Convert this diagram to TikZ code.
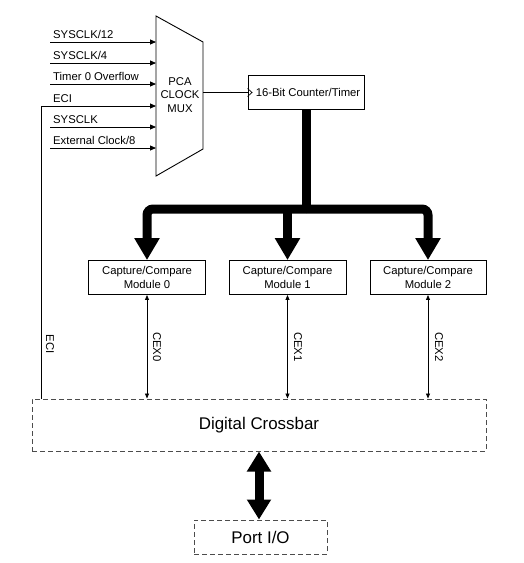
\documentclass[tikz,border=0pt]{standalone}
\usepackage{fontspec}
\setmainfont{Liberation Sans}
\usetikzlibrary{arrows.meta}
\begin{document}
\begin{tikzpicture}[x=1pt,y=-1pt,
  lbl/.style={font=\fontsize{11.3}{13.6}\selectfont, inner sep=0pt},
  box/.style={draw, line width=0.9pt, inner sep=0pt, align=center,
    font=\fontsize{11.3}{13.6}\selectfont},
  dbox/.style={draw=black!70, line width=1pt, dash pattern=on 5pt off 3pt,
    inner sep=0pt, align=center, font=\fontsize{16.9}{20}\selectfont},
  inarrow/.style={line width=0.8pt, -{Triangle[length=6pt,width=5pt]}},
  cex/.style={line width=0.8pt, {Triangle[length=5pt,width=4pt]}-{Triangle[length=5pt,width=4pt]}},
  bus/.style={line width=9pt, -{Triangle[length=22pt,width=24pt]}},
  dblbus/.style={line width=9pt, {Triangle[length=20pt,width=23pt]}-{Triangle[length=20pt,width=23pt]}}
]
\useasboundingbox (0,0) rectangle (524,563);

% PCA clock mux (trapezoid)
\coordinate (mtl) at (156,16);
\coordinate (mbl) at (156,176);
\coordinate (mtr) at (203,42);
\coordinate (mbr) at (203,149);
\draw[line width=0.9pt] (mtl) -- (mtr) -- (mbr) -- (mbl) -- cycle;
\node[lbl, align=center] (mux) at (180,95) {PCA\\CLOCK\\MUX};

% mux inputs
\coordinate (in1) at (156,42);
\coordinate (in2) at (156,63);
\coordinate (in3) at (156,84);
\coordinate (in4) at (156,106);
\coordinate (in5) at (156,127);
\coordinate (in6) at (156,148);
\coordinate (s1) at (50,42);
\coordinate (s2) at (50,63);
\coordinate (s3) at (50,84);
\coordinate (s5) at (50,127);
\coordinate (s6) at (50,148);
\draw[inarrow] (s1) -- (in1);
\draw[inarrow] (s2) -- (in2);
\draw[inarrow] (s3) -- (in3);
\draw[inarrow] (s5) -- (in5);
\draw[inarrow] (s6) -- (in6);
\node[lbl, anchor=south west] (l1) at (53,39) {SYSCLK/12};
\node[lbl, anchor=south west] (l2) at (53,60) {SYSCLK/4};
\node[lbl, anchor=south west] (l3) at (53,81) {Timer 0 Overflow};
\node[lbl, anchor=south west] (l4) at (53,103) {ECI};
\node[lbl, anchor=south west] (l5) at (53,124) {SYSCLK};
\node[lbl, anchor=south west] (l6) at (53,145) {External Clock/8};

% counter
\node[box, minimum width=116pt, minimum height=34pt] (cnt) at (306,92.5) {\hspace*{4pt}16-Bit Counter/Timer};
\coordinate (muxout) at (203,92.5);
\draw[line width=0.8pt] (muxout) -- (cnt.west);
\draw[line width=0.7pt] (cnt.west) ++(0,-4) -- ++(4.5,4) -- ++(-4.5,4);

% modules
\node[box, minimum width=117pt, minimum height=34pt] (m0) at (147,277.5) {Capture/Compare\\Module 0};
\node[box, minimum width=117pt, minimum height=34pt] (m1) at (287.5,277.5) {Capture/Compare\\Module 1};
\node[box, minimum width=116pt, minimum height=34pt] (m2) at (428,277.5) {Capture/Compare\\Module 2};

% bus
\coordinate (j) at (306,209);
\draw[line width=9pt] (cnt.south) -- (j);
\draw[bus, rounded corners=6pt] (j) -| (m0.north);
\draw[bus, rounded corners=6pt] (j) -| (m2.north);
\draw[bus] (j -| m1.north) -- (m1.north);

% crossbar and port
\node[dbox, minimum width=454pt, minimum height=52pt] (xb) at (259,425) {Digital Crossbar};
\node[dbox, minimum width=133pt, minimum height=34pt] (port) at (260.5,537) {Port I/O};
\draw[dblbus] (xb.south) -- (xb.south |- port.north);

% CEX lines
\draw[cex] (m0.south) -- (m0.south |- xb.north);
\draw[cex] (m1.south) -- (m1.south |- xb.north);
\draw[cex] (m2.south) -- (m2.south |- xb.north);
\node[lbl, rotate=-90] (cex0) at (157,347) {CEX0};
\node[lbl, rotate=-90] (cex1) at (298,347) {CEX1};
\node[lbl, rotate=-90] (cex2) at (439,347) {CEX2};

% ECI feedback
\coordinate (ecic) at (41,106);
\draw[inarrow] (ecic |- xb.north) -- (ecic) -- (in4);
\node[lbl, rotate=-90] (ecil) at (50,344) {ECI};
\end{tikzpicture}
\end{document}
